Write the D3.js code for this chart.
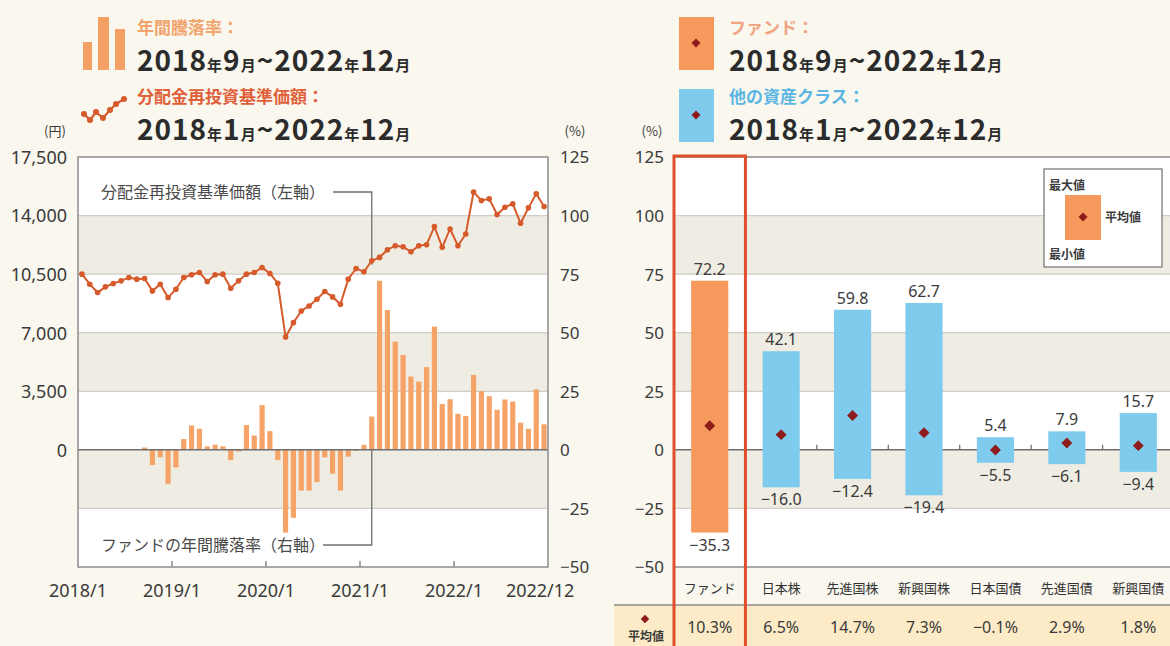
<!DOCTYPE html>
<html>
<head>
<meta charset="utf-8">
<script src="https://cdn.jsdelivr.net/npm/d3@7"></script>
<style>
  body { margin: 0; background: #f9f7ee; }
  svg { display: block; font-family: "Noto Sans CJK JP", "Noto Sans", sans-serif; }
</style>
</head>
<body>
<svg id="chart" width="1170" height="646"></svg>
<script>
// left chart: monthly NAV (yen), 2018/1 - 2022/12
var navValues = [
  10500, 9900, 9400, 9740, 9940, 10100, 10300, 10200, 10240, 9500, 9900, 9100,
  9600, 10300, 10460, 10600, 10060, 10460, 10500, 9660, 10100, 10500, 10600, 10900,
  10540, 9960, 6740, 7600, 8300, 8600, 9000, 9460, 9140, 8700, 10200, 10840,
  10640, 11300, 11500, 11960, 12200, 12140, 11840, 12200, 12260, 13340, 12100, 13200,
  12200, 12900, 15400, 14900, 15000, 14060, 14500, 14700, 13540, 14460, 15300, 14540
];
// annual return (%), 2018/9 - 2022/12
var returnStart = 8;
var returnValues = [
  1.0, -6.5, -3.2, -14.5,
  -7.5, 4.6, 10.4, 9.0, 1.5, 2.2, 1.5, -4.4, -0.7, 10.6, 6.1, 19.1,
  8.0, -4.4, -35.3, -29.0, -17.4, -17.4, -13.8, -3.2, -10.2, -17.4, -2.9, -0.5,
  2.1, 14.2, 72.2, 59.7, 46.2, 40.5, 31.3, 29.1, 35.3, 52.6, 19.6, 21.6,
  15.4, 14.5, 32.0, 25.0, 22.9, 17.1, 21.5, 20.6, 11.6, 9.0, 25.8, 10.9
];
var xTickLabels = ["2018/1", "2019/1", "2020/1", "2021/1", "2022/1", "2022/12"];
var navTicks = [0, 3500, 7000, 10500, 14000, 17500];
var pctTicks = [-50, -25, 0, 25, 50, 75, 100, 125];

// right chart: asset classes
var classNames = ["ファンド", "日本株", "先進国株", "新興国株", "日本国債", "先進国債", "新興国債"];
var maxValues = [72.2, 42.1, 59.8, 62.7, 5.4, 7.9, 15.7];
var minValues = [-35.3, -16.0, -12.4, -19.4, -5.5, -6.1, -9.4];
var avgValues = [10.3, 6.5, 14.7, 7.3, -0.1, 2.9, 1.8];

var months = [];
for (var yr = 2018; yr <= 2022; yr++) {
  for (var mo = 1; mo <= 12; mo++) months.push(yr + "/" + mo);
}

var svg = d3.select("#chart");
var TEXT = "#3a3a3a";
var GRID = "#cfcdc4";
var SHADE = "#efede3";
var NUMFONT = "'Noto Sans', sans-serif";
var minus = function (s) { return String(s).replace("-", "\u2212"); };

function drawPeriod(x, y, y1, m1, y2, m2) {
  var t = svg.append("text").attr("x", x).attr("y", y)
    .attr("fill", "#2b2b2b").attr("font-weight", "bold").attr("letter-spacing", 1);
  [[y1, 1], ["年", 0], [m1, 1], ["月", 0], ["~", 1], [y2, 1], ["年", 0], [m2, 1], ["月", 0]]
    .forEach(function (p) {
      t.append("tspan").attr("font-size", p[1] ? 28 : 15).text(p[0]);
    });
}

function diamond(g, cx, cy, size) {
  g.append("path")
    .attr("d", d3.symbol(d3.symbolSquare, size)())
    .attr("transform", "translate(" + cx + "," + cy + ") rotate(45)")
    .attr("fill", "#8e1c1c");
}

/* ---------- header legends ---------- */
var lg = svg.append("g");
[[83, 42, 9], [98, 17, 11], [115, 29, 10]].forEach(function (b) {
  lg.append("rect").attr("x", b[0]).attr("y", b[1]).attr("width", b[2]).attr("height", 70 - b[1])
    .attr("fill", "#f4a064");
});
lg.append("text").attr("x", 137).attr("y", 34).attr("font-size", 17).attr("font-weight", "bold")
  .attr("fill", "#f2a46c").text("年間騰落率：");
drawPeriod(137, 71, "2018", "9", "2022", "12");

var iconPts = [[84, 114], [90, 120], [96, 112], [103, 118], [110, 110], [116, 104], [124, 99]];
lg.append("path").attr("d", d3.line()(iconPts)).attr("fill", "none")
  .attr("stroke", "#d65a2a").attr("stroke-width", 2.2);
lg.selectAll(".iconDot").data(iconPts).enter().append("circle")
  .attr("cx", function (d) { return d[0]; }).attr("cy", function (d) { return d[1]; })
  .attr("r", 3).attr("fill", "#d65a2a");
lg.append("text").attr("x", 137).attr("y", 103).attr("font-size", 17).attr("font-weight", "bold")
  .attr("fill", "#e0603a").text("分配金再投資基準価額：");
drawPeriod(137, 140, "2018", "1", "2022", "12");

lg.append("rect").attr("x", 679).attr("y", 17).attr("width", 35).attr("height", 53).attr("fill", "#f59a5c");
diamond(lg, 696, 43, 40);
lg.append("text").attr("x", 729).attr("y", 34).attr("font-size", 17).attr("font-weight", "bold")
  .attr("fill", "#f0a482").text("ファンド：");
drawPeriod(729, 71, "2018", "9", "2022", "12");

lg.append("rect").attr("x", 679).attr("y", 89).attr("width", 35).attr("height", 53).attr("fill", "#7ecbee");
diamond(lg, 696, 115, 40);
lg.append("text").attr("x", 729).attr("y", 103).attr("font-size", 17).attr("font-weight", "bold")
  .attr("fill", "#5cb6e4").text("他の資産クラス：");
drawPeriod(729, 140, "2018", "1", "2022", "12");

/* ---------- left chart ---------- */
var L = { x0: 78, x1: 548, top: 157, bottom: 567 };
var xL = d3.scaleBand().domain(months).range([L.x0, L.x1]).padding(0);
var step = xL.step();
var yNav = d3.scaleLinear().domain([-7000, 17500]).range([L.bottom, L.top]);
var yPct = d3.scaleLinear().domain([-50, 125]).range([L.bottom, L.top]);

function plotBackground(g, x0, x1, y) {
  g.append("rect").attr("x", x0).attr("y", y(125)).attr("width", x1 - x0)
    .attr("height", y(-50) - y(125)).attr("fill", "#ffffff");
  [[100, 75], [50, 25], [0, -25]].forEach(function (b) {
    g.append("rect").attr("x", x0).attr("y", y(b[0])).attr("width", x1 - x0)
      .attr("height", y(b[1]) - y(b[0])).attr("fill", SHADE);
  });
  g.selectAll(".grid").data([100, 75, 50, 25, -25]).enter().append("line")
    .attr("x1", x0).attr("x2", x1)
    .attr("y1", function (d) { return y(d); }).attr("y2", function (d) { return y(d); })
    .attr("stroke", GRID).attr("stroke-width", 1.2);
}

var lc = svg.append("g");
plotBackground(lc, L.x0, L.x1, yPct);

var barData = returnValues.map(function (v, i) { return { m: months[returnStart + i], v: v }; });
lc.selectAll(".retBar").data(barData).enter().append("rect")
  .attr("class", "retBar")
  .attr("x", function (d) { return xL(d.m) + step * 0.17; })
  .attr("width", step * 0.66)
  .attr("y", function (d) { return yPct(Math.max(0, d.v)); })
  .attr("height", function (d) { return Math.abs(yPct(d.v) - yPct(0)); })
  .attr("fill", "#f5a366");

lc.append("line").attr("x1", L.x0).attr("x2", L.x1).attr("y1", yPct(0)).attr("y2", yPct(0))
  .attr("stroke", "#6f6f6f").attr("stroke-width", 1.5);

// annotations
var annX = xL("2021/2") + step / 2;
lc.append("path")
  .attr("d", "M333," + 192 + "H" + annX + "V" + (yNav(navValues[37]) + 4))
  .attr("fill", "none").attr("stroke", "#6f6f6f").attr("stroke-width", 1.3);
lc.append("path")
  .attr("d", "M323," + 545 + "H" + annX + "V" + yPct(0))
  .attr("fill", "none").attr("stroke", "#6f6f6f").attr("stroke-width", 1.3);
lc.append("text").attr("x", 101).attr("y", 198).attr("font-size", 16).attr("fill", "#4a4a4a")
  .text("分配金再投資基準価額（左軸）");
lc.append("text").attr("x", 101).attr("y", 551).attr("font-size", 16).attr("fill", "#4a4a4a")
  .text("ファンドの年間騰落率（右軸）");

var navLine = d3.line()
  .x(function (d, i) { return xL(months[i]) + step / 2; })
  .y(function (d) { return yNav(d); });
lc.append("path").datum(navValues).attr("d", navLine)
  .attr("fill", "none").attr("stroke", "#d65a2a").attr("stroke-width", 2);
lc.selectAll(".navDot").data(navValues).enter().append("circle")
  .attr("cx", function (d, i) { return xL(months[i]) + step / 2; })
  .attr("cy", function (d) { return yNav(d); })
  .attr("r", 2.8).attr("fill", "#d65a2a");

// frame
lc.append("rect").attr("x", L.x0).attr("y", L.top).attr("width", L.x1 - L.x0)
  .attr("height", L.bottom - L.top).attr("fill", "none").attr("stroke", "#8d8d8d").attr("stroke-width", 1.5);

// axes
var axL = lc.append("g").attr("transform", "translate(" + (L.x0 - 8) + ",0)")
  .call(d3.axisLeft(yNav).tickValues(navTicks).tickSize(0).tickFormat(d3.format(",")));
var axR = lc.append("g").attr("transform", "translate(" + (L.x1 + 9) + ",0)")
  .call(d3.axisRight(yPct).tickValues(pctTicks).tickSize(0).tickFormat(minus));
var axB = lc.append("g").attr("transform", "translate(0," + (L.bottom + 30) + ")")
  .call(d3.axisBottom(d3.scalePoint().domain(xTickLabels).range([L.x0, L.x1])).tickSize(0));
axB.selectAll(".tick").attr("transform", function (d) {
  return "translate(" + xL(d) + ",0)";
});
[axL, axR, axB].forEach(function (a) {
  a.select(".domain").remove();
  a.selectAll("text").attr("font-size", 17).attr("fill", TEXT).attr("font-family", NUMFONT);
});
axL.selectAll("text").attr("font-size", 18).attr("dy", "0.35em");
axR.selectAll("text").attr("dy", "0.35em");
axB.selectAll("text").attr("font-size", 18).attr("dy", 0).attr("y", 0);

lc.selectAll(".xtick").data(xTickLabels.slice(1, 5)).enter().append("line")
  .attr("x1", function (d) { return xL(d); }).attr("x2", function (d) { return xL(d); })
  .attr("y1", L.bottom).attr("y2", L.bottom - 6)
  .attr("stroke", "#8d8d8d").attr("stroke-width", 1.5);

lc.append("text").attr("x", 55).attr("y", 136).attr("text-anchor", "middle")
  .attr("font-size", 13).attr("fill", TEXT).text("(円)");
lc.append("text").attr("x", 575).attr("y", 136).attr("text-anchor", "middle")
  .attr("font-size", 13).attr("fill", TEXT).text("(%)");

/* ---------- right chart ---------- */
var R = { x0: 674, x1: 1174, top: 157, bottom: 567 };
var xR = d3.scaleBand().domain(classNames).range([R.x0, R.x1]).paddingInner(0.48).paddingOuter(0.24);
var stepR = xR.step();
var bw = xR.bandwidth();
var yR = yPct;
var rc = svg.append("g");
plotBackground(rc, R.x0, 1170, yR);

rc.append("line").attr("x1", R.x0).attr("x2", 1170).attr("y1", yR(0)).attr("y2", yR(0))
  .attr("stroke", "#6f6f6f").attr("stroke-width", 1.5);
rc.selectAll(".ctick").data(classNames.slice(1)).enter().append("line")
  .attr("x1", function (d) { return xR(d) + bw / 2 + stepR / 2; })
  .attr("x2", function (d) { return xR(d) + bw / 2 + stepR / 2; })
  .attr("y1", yR(0)).attr("y2", yR(0) - 5)
  .attr("stroke", "#6f6f6f").attr("stroke-width", 1.3);
[R.top, R.bottom].forEach(function (y) {
  rc.append("line").attr("x1", R.x0).attr("x2", 1170).attr("y1", y).attr("y2", y)
    .attr("stroke", "#8d8d8d").attr("stroke-width", 1.5);
});

var classData = classNames.map(function (c, i) {
  return { name: c, max: maxValues[i], min: minValues[i], avg: avgValues[i], fund: i === 0 };
});
var fmt = d3.format(".1f");

rc.selectAll(".rangeBar").data(classData).enter().append("rect")
  .attr("x", function (d) { return xR(d.name); })
  .attr("width", bw)
  .attr("y", function (d) { return yR(d.max); })
  .attr("height", function (d) { return yR(d.min) - yR(d.max); })
  .attr("fill", function (d) { return d.fund ? "#f59a5c" : "#7ecbee"; });
rc.selectAll(".maxLbl").data(classData).enter().append("text")
  .attr("x", function (d) { return xR(d.name) + bw / 2; })
  .attr("y", function (d) { return yR(d.max) - 6; })
  .attr("text-anchor", "middle").attr("font-size", 16).attr("fill", TEXT)
  .attr("font-family", NUMFONT)
  .text(function (d) { return fmt(d.max); });
rc.selectAll(".minLbl").data(classData).enter().append("text")
  .attr("x", function (d) { return xR(d.name) + bw / 2; })
  .attr("y", function (d) { return yR(d.min) + 18; })
  .attr("text-anchor", "middle").attr("font-size", 16).attr("fill", TEXT)
  .attr("font-family", NUMFONT)
  .text(function (d) { return minus(fmt(d.min)); });
classData.forEach(function (d) {
  diamond(rc, xR(d.name) + bw / 2, yR(d.avg), 60);
});

var axR2 = rc.append("g").attr("transform", "translate(" + (R.x0 - 7) + ",0)")
  .call(d3.axisLeft(yR).tickValues(pctTicks).tickSize(0).tickFormat(minus));
axR2.select(".domain").remove();
axR2.selectAll("text").attr("font-size", 17).attr("fill", TEXT).attr("dy", "0.35em")
  .attr("font-family", NUMFONT);
rc.append("text").attr("x", 652).attr("y", 136).attr("text-anchor", "middle")
  .attr("font-size", 13).attr("fill", TEXT).text("(%)");

// legend box
var lb = rc.append("g");
lb.append("rect").attr("x", 1044).attr("y", 169).attr("width", 118).attr("height", 98)
  .attr("fill", "#ffffff").attr("stroke", "#7a7a7a").attr("stroke-width", 1.3);
lb.append("rect").attr("x", 1065).attr("y", 195).attr("width", 36).attr("height", 45).attr("fill", "#f59a5c");
diamond(lb, 1083, 217, 40);
lb.append("text").attr("x", 1049).attr("y", 190).attr("font-size", 12).attr("font-weight", "bold")
  .attr("fill", TEXT).text("最大値");
lb.append("text").attr("x", 1105).attr("y", 222).attr("font-size", 12).attr("font-weight", "bold")
  .attr("fill", TEXT).text("平均値");
lb.append("text").attr("x", 1049).attr("y", 259).attr("font-size", 12).attr("font-weight", "bold")
  .attr("fill", TEXT).text("最小値");

// category labels and average row
rc.selectAll(".catLbl").data(classData).enter().append("text")
  .attr("x", function (d) { return xR(d.name) + bw / 2; })
  .attr("y", 593).attr("text-anchor", "middle").attr("font-size", 13)
  .attr("fill", "#333").text(function (d) { return d.name; });
rc.append("rect").attr("x", 614).attr("y", 605).attr("width", 556).attr("height", 41).attr("fill", "#fcebc6");
rc.append("line").attr("x1", 614).attr("x2", 1170).attr("y1", 605).attr("y2", 605)
  .attr("stroke", "#8d8d8d").attr("stroke-width", 1.3);
diamond(rc, 645, 619, 36);
rc.append("text").attr("x", 646).attr("y", 641).attr("text-anchor", "middle").attr("font-size", 12)
  .attr("font-weight", "bold").attr("fill", TEXT).text("平均値");
rc.selectAll(".avgLbl").data(classData).enter().append("text")
  .attr("x", function (d) { return xR(d.name) + bw / 2; })
  .attr("y", 633).attr("text-anchor", "middle").attr("font-size", 16).attr("fill", TEXT)
  .attr("font-family", NUMFONT)
  .text(function (d) { return minus(fmt(d.avg)) + "%"; });

// highlight box round the fund column
var fundX = xR(classNames[0]) + bw / 2;
rc.append("rect").attr("x", fundX - stepR / 2).attr("y", R.top - 1)
  .attr("width", stepR).attr("height", 660 - R.top)
  .attr("fill", "none").attr("stroke", "#e04e2b").attr("stroke-width", 3);
</script>
</body>
</html>
